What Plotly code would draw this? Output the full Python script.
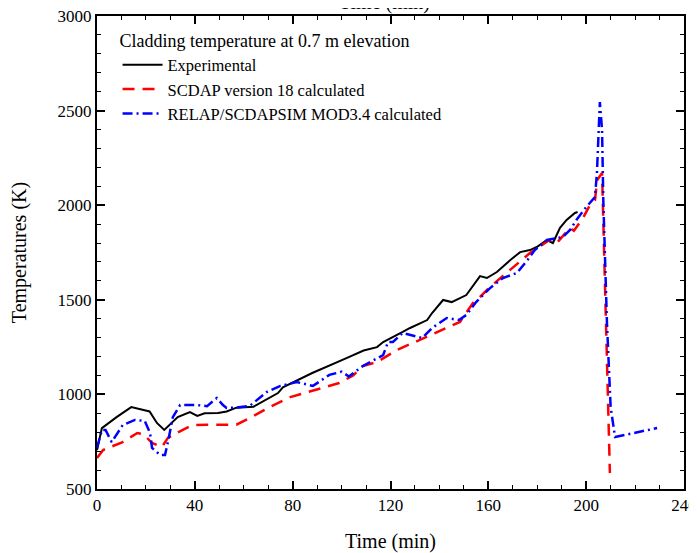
import plotly.graph_objects as go

# Experimental cladding temperature (black)
exp_t = [0, 2, 8, 14, 21.5, 24.5, 27.5, 30.5, 33, 38, 41, 44, 49.5, 53, 57, 64, 74, 76, 88, 102, 109,
         114.5, 117, 125, 128, 135, 137, 141.5, 145, 151, 156.6, 159.4, 163.5, 169, 173, 177, 179.8,
         184, 186.4, 189.3, 192, 195.4, 196.5]
exp_K = [706, 822, 880, 933, 910, 849, 812, 850, 880, 907, 886, 900, 902, 910, 930, 935, 1007, 1037,
         1113, 1192, 1232, 1250, 1277, 1330, 1351, 1393, 1430, 1499, 1488, 1525, 1625, 1615, 1647,
         1710, 1752, 1763, 1779, 1816, 1800, 1880, 1922, 1959, 1964]

# SCDAP version 18 (red dashed)
scdap_t = [0, 2.5, 10.5, 16.5, 19, 22.5, 26.5, 29, 32.5, 39, 45, 57, 62.5, 70.5, 79, 89, 99, 104.7,
           108.7, 114.5, 122.6, 132, 139, 148.4, 153.7, 156.6, 160.7, 169, 177, 185, 188, 193.4, 195,
           198.7, 201.5, 203.6, 204.5, 206.5, 207, 208, 209, 209.7]
scdap_K = [664, 706, 748, 796, 790, 743, 722, 770, 796, 838, 840, 840, 875, 933, 986, 1023, 1060, 1100,
           1150, 1171, 1235, 1288, 1330, 1383, 1483, 1515, 1568, 1657, 1747, 1816, 1800, 1880, 1865,
           1932, 2000, 2027, 2133, 2170, 1900, 1377, 849, 585]

# RELAP/SCDAPSIM MOD3.4 (blue dash-dot)
relap_t = [0, 2, 3.5, 6, 10.5, 15.5, 19.5, 21.7, 22.5, 25.8, 27.8, 29, 31, 34, 40.8, 45, 49, 51.5, 53,
           57, 62.5, 69.5, 75, 81.7, 88.3, 95, 100, 103, 108.7, 113, 117, 119, 121, 125, 133, 137, 143,
           148, 151, 155, 160.7, 166, 171.7, 176, 179, 184, 188, 190.5, 193.4, 196, 200, 203.6, 204.4,
           205.6, 206.5, 207, 208.5, 210, 211.8, 229]
relap_K = [717, 812, 812, 748, 838, 865, 860, 796, 717, 680, 680, 748, 880, 944, 944, 938, 981, 944, 928,
           930, 940, 1013, 1045, 1065, 1045, 1103, 1120, 1095, 1150, 1182, 1208, 1277, 1277, 1325, 1298,
           1351, 1404, 1393, 1420, 1488, 1562, 1615, 1642, 1710, 1763, 1816, 1826, 1832, 1869, 1922,
           1990, 2043, 2170, 2545, 2398, 2027, 1377, 933, 775, 822]

serif = "Liberation Serif"

fig = go.Figure()
fig.add_trace(go.Scatter(x=exp_t, y=exp_K, mode="lines", name="Experimental",
                         line=dict(color="black", width=2)))
fig.add_trace(go.Scatter(x=scdap_t, y=scdap_K, mode="lines", name="SCDAP version 18 calculated",
                         line=dict(color="rgb(255,0,0)", width=2.5, dash="12px,8px")))
fig.add_trace(go.Scatter(x=relap_t, y=relap_K, mode="lines", name="RELAP/SCDAPSIM MOD3.4 calculated",
                         line=dict(color="rgb(0,0,255)", width=2.5, dash="10px,4px,2px,4px")))

axis_common = dict(
    showgrid=False, zeroline=False, showline=True, linecolor="black", linewidth=2,
    mirror="ticks", ticks="inside", ticklen=8, tickwidth=1.5, tickcolor="black",
    tickfont=dict(family=serif, size=17, color="black"), automargin=False,
    ticklabeloverflow="allow",
)

fig.update_xaxes(range=[0, 240], dtick=40, tick0=0,
                 minor=dict(dtick=10, ticks="inside", ticklen=4, tickcolor="black", tickwidth=1.2),
                 title=dict(text="Time (min)", font=dict(family=serif, size=20, color="black"),
                            standoff=20),
                 **axis_common)
fig.update_yaxes(range=[500, 3000], dtick=500, tick0=500,
                 minor=dict(dtick=100, ticks="inside", ticklen=4, tickcolor="black", tickwidth=1.2),
                 title=dict(text="Temperatures (K)", font=dict(family=serif, size=20, color="black"),
                            standoff=36),
                 **axis_common)

# the top axis title is cut off at the top edge of the picture
fig.add_annotation(text="Time (min)", xref="paper", yref="paper", x=0.49, y=1,
                   xanchor="center", yanchor="bottom", yshift=0, showarrow=False,
                   font=dict(family=serif, size=20, color="black"))

# the page has an 8px body margin, so the figure is made smaller and shifted by it
fig.update_layout(
    width=689, height=545,
    margin=dict(l=89, r=13, t=8, b=64, autoexpand=False),
    plot_bgcolor="white", paper_bgcolor="white",
    font=dict(family=serif, color="black"),
    legend=dict(
        x=0.035, y=0.983, xanchor="left", yanchor="top",
        bgcolor="rgba(0,0,0,0)", borderwidth=0,
        font=dict(family=serif, size=16.5, color="black"),
        title=dict(text="Cladding temperature at 0.7 m elevation",
                   font=dict(family=serif, size=18, color="black"), side="top"),
        itemwidth=40, tracegroupgap=0,
    ),
)

fig.write_html("out.html")
